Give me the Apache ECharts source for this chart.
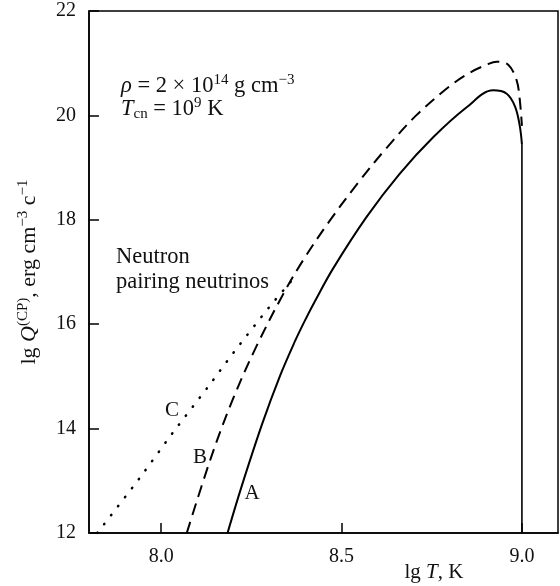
<!DOCTYPE html>
<html>
<head>
<meta charset="utf-8">
<script src="https://cdn.jsdelivr.net/npm/echarts@6/dist/echarts.min.js"></script>
<style>
  html, body { margin: 0; padding: 0; background: #fff; }
  #chart { width: 560px; height: 586px; }
</style>
</head>
<body>
<div id="chart"></div>
<script>
// lg T (K) vs lg Q(CP) for the three neutrino emissivity curves
const curveA = [
  [8.184, 12.0], [8.222, 12.87], [8.28, 14.09], [8.33, 15.02], [8.37, 15.66],
  [8.397, 16.05], [8.427, 16.45], [8.476, 17.06], [8.569, 18.05], [8.661, 18.88],
  [8.754, 19.58], [8.846, 20.15], [8.92, 20.48], [8.957, 20.42], [8.981, 20.17],
  [8.994, 19.8], [9.0, 19.45]
];
const dropA = [[9.0, 19.45], [9.0, 12.0]];
const curveB = [
  [8.071, 12.0], [8.138, 13.44], [8.198, 14.55], [8.263, 15.56], [8.337, 16.56],
  [8.393, 17.22], [8.467, 17.98], [8.546, 18.71], [8.624, 19.37], [8.707, 20.0],
  [8.8, 20.56], [8.856, 20.82], [8.902, 20.97], [8.93, 21.03], [8.962, 20.97],
  [8.985, 20.68], [8.994, 20.3], [9.0, 19.8]
];
const curveC = [
  [7.823, 12.0], [7.94, 13.05], [8.03, 13.9], [8.13, 14.8], [8.2, 15.45],
  [8.3, 16.33], [8.37, 16.9]
];
const xTicks = [8.0, 8.5, 9.0];
const yRange = [12, 22];
const xRange = [7.8, 9.1];

const FONT = 'Liberation Serif';

function richStyles(size) {
  const small = Math.round(size * 0.68);
  return {
    sup: { fontSize: small, lineHeight: small, verticalAlign: 'top', fontFamily: FONT },
    sub: { fontSize: small, lineHeight: small, verticalAlign: 'bottom', fontFamily: FONT },
    i: { fontStyle: 'italic', fontSize: size, lineHeight: 26, fontFamily: FONT }
  };
}

const chart = echarts.init(document.getElementById('chart'), null, { renderer: 'canvas' });

function textEl(x, y, text, size, align) {
  return {
    type: 'text', x: x, y: y, silent: true,
    style: {
      text: text,
      fill: '#111',
      fontSize: size, fontFamily: FONT, lineHeight: 26,
      align: align || 'left', verticalAlign: 'middle',
      rich: richStyles(size)
    }
  };
}

const option = {
  animation: false,
  backgroundColor: '#fff',
  grid: {
    left: 89, right: 2, top: 11, bottom: 53,
    show: true, borderColor: '#000', borderWidth: 1.5, backgroundColor: 'transparent'
  },
  xAxis: {
    type: 'value', min: xRange[0], max: xRange[1],
    axisLine: { show: true, lineStyle: { color: '#000', width: 1.5 } },
    axisTick: { show: true, inside: true, length: 10, customValues: xTicks,
      lineStyle: { color: '#000', width: 1.5 } },
    axisLabel: { show: true, customValues: xTicks, margin: 14, color: '#111',
      fontSize: 20, fontFamily: FONT,
      formatter: v => v.toFixed(1) },
    splitLine: { show: false }
  },
  yAxis: {
    type: 'value', min: yRange[0], max: yRange[1], interval: 2,
    axisLine: { show: true, lineStyle: { color: '#000', width: 1.5 } },
    axisTick: { show: true, inside: true, length: 10, lineStyle: { color: '#000', width: 1.5 } },
    axisLabel: { margin: 13, color: '#111', fontSize: 20, fontFamily: FONT },
    splitLine: { show: false },
    name: 'lg {i|Q}{sup|(CP)}, erg cm{sup|−3} c{sup|−1}',
    nameLocation: 'middle', nameRotate: 90, nameGap: 47,
    nameTextStyle: {
      color: '#111', fontSize: 22, fontFamily: FONT, lineHeight: 26,
      rich: richStyles(22)
    }
  },
  series: [
    {
      name: 'A', type: 'line', data: curveA, smooth: 0.35, showSymbol: false,
      lineStyle: { color: '#000', width: 2 }
    },
    {
      name: 'A drop', type: 'line', data: dropA, smooth: false, showSymbol: false,
      lineStyle: { color: '#000', width: 1.6 }
    },
    {
      name: 'B', type: 'line', data: curveB, smooth: 0.35, showSymbol: false,
      lineStyle: { color: '#000', width: 2, type: [12, 7] }
    },
    {
      name: 'C', type: 'line', data: curveC, smooth: 0.3, showSymbol: false,
      lineStyle: { color: '#000', width: 2.5, type: [0.5, 10.8], cap: 'round' }
    }
  ],
  graphic: [
    textEl(121, 86, '{i|ρ} = 2 × 10{sup|14} g cm{sup|−3}', 22.5),
    textEl(121, 109, '{i|T}{sub|cn} = 10{sup|9} K', 22.5),
    textEl(116, 257, 'Neutron', 22.5),
    textEl(116, 282, 'pairing neutrinos', 22.5),
    textEl(172, 410, 'C', 21, 'center'),
    textEl(200, 457, 'B', 21, 'center'),
    textEl(252, 493, 'A', 21, 'center'),
    textEl(434, 572, 'lg {i|T}, K', 21, 'center')
  ]
};

chart.setOption(option);
</script>
</body>
</html>
